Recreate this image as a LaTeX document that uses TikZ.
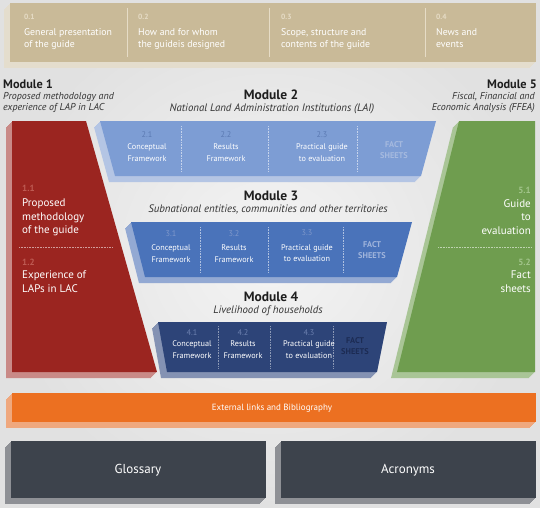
\documentclass[tikz,border=0pt]{standalone}
\usepackage{fontspec}
\setmainfont{PT Sans}
\usepackage{tikz}
\usetikzlibrary{positioning}

\definecolor{bgout}{HTML}{E1E1E1}
\definecolor{bgin}{HTML}{F4F4F4}
\definecolor{beige}{HTML}{C9BA98}
\definecolor{beigeside}{HTML}{E4DDCD}
\definecolor{beigenum}{HTML}{E6DCC6}
\definecolor{modred}{HTML}{9B2520}
\definecolor{modredside}{HTML}{C98A87}
\definecolor{modrednum}{HTML}{BE5B53}
\definecolor{modgreen}{HTML}{6F9D4F}
\definecolor{modgreenside}{HTML}{A9C596}
\definecolor{modgreennum}{HTML}{A2C58B}
\definecolor{bluea}{HTML}{7D9DD4}
\definecolor{blueaside}{HTML}{B4C5E4}
\definecolor{blueanum}{HTML}{5B7AB3}
\definecolor{blueafact}{HTML}{A6BADF}
\definecolor{blueb}{HTML}{4A73BA}
\definecolor{bluebside}{HTML}{93A9D3}
\definecolor{bluebnum}{HTML}{7F98CB}
\definecolor{bluebfact}{HTML}{A1B5DC}
\definecolor{bluec}{HTML}{2D4478}
\definecolor{bluecside}{HTML}{8492B3}
\definecolor{bluecnum}{HTML}{6C80AF}
\definecolor{bluecfact}{HTML}{1C2B53}
\definecolor{orangebar}{HTML}{EC7021}
\definecolor{orangeside}{HTML}{EFA87E}
\definecolor{slate}{HTML}{3D434C}
\definecolor{slateside}{HTML}{8E9095}
\definecolor{headgrey}{HTML}{1E1E1E}
\definecolor{subgrey}{HTML}{333333}

% front face and its extruded side
\newcommand{\slab}[3]{%
  \foreach \s in {1,...,6} \fill[#2,shift={(-\s,\s)}] #3;
  \fill[#1] #3;}

\begin{document}
\begin{tikzpicture}[x=1pt,y=-1pt,
  modhead/.style={font=\bfseries\fontsize{12.3}{14}\selectfont,text=headgrey,inner sep=0},
  midhead/.style={modhead,font=\bfseries\fontsize{13.5}{16}\selectfont},
  modsub/.style={font=\itshape\fontsize{10}{11}\selectfont,text=subgrey,inner sep=0},
  midsub/.style={modsub,font=\itshape\fontsize{10.8}{12}\selectfont},
  topnum/.style={font=\bfseries\fontsize{7.5}{9}\selectfont,text=beigenum,inner sep=0},
  toptxt/.style={font=\fontsize{9.8}{12}\selectfont,text=white,align=left,inner sep=0},
  sidenum/.style={font=\bfseries\fontsize{9}{10}\selectfont,inner sep=0},
  sidetxt/.style={font=\fontsize{11}{13.5}\selectfont,text=white,inner sep=0},
  cell/.style={font=\fontsize{8.2}{11.5}\selectfont,text=white,align=center,inner sep=0,anchor=north},
  fact/.style={font=\bfseries\fontsize{8.3}{11}\selectfont,align=center,inner sep=0},
  divider/.style={densely dotted,line width=.6pt}]
\useasboundingbox (0,0) rectangle (540,507);
\shade[inner color=bgin,outer color=bgout] (0,0) rectangle (540,507);

% general part
\slab{beige}{beigeside}{(10,3)--(536,3)--(536,62)--(10,62)--cycle}
\draw[beigenum,line width=.5pt] (127,8)--(127,57) (269,8)--(269,57) (425,8)--(425,57);
\node[topnum,anchor=west] (n01) at (24,17) {0.1};
\node[toptxt,anchor=north west] (t01) at (24,28.5) {General presentation\\of the guide};
\node[topnum,anchor=west] (n02) at (138,17) {0.2};
\node[toptxt,anchor=north west] (t02) at (138,28.5) {How and for whom\\the guideis designed};
\node[topnum,anchor=west] (n03) at (281,17) {0.3};
\node[toptxt,anchor=north west] (t03) at (281,28.5) {Scope, structure and\\contents of the guide};
\node[topnum,anchor=west] (n04) at (436,17) {0.4};
\node[toptxt,anchor=north west] (t04) at (436,28.5) {News and\\events};

% module titles
\node[modhead,anchor=base west] (m1) at (3,88) {Module 1};
\node[modsub,anchor=north west,align=left] (m1s) at (3,92) {Proposed methodology and\\experience of LAP in LAC};
\node[midhead,anchor=base] (m2) at (271,99) {Module 2};
\node[midsub,anchor=base] (m2s) at (272,111) {National Land Administration Institutions (LAI)};
\node[modhead,anchor=base east] (m5) at (537,88) {Module 5};
\node[modsub,anchor=north east,align=right] (m5s) at (535,92) {Fiscal, Financial and\\Economic Analysis (FFEA)};
\node[midhead,anchor=base] (m3) at (271,200) {Module 3};
\node[midsub,anchor=base] (m3s) at (268,212) {Subnational entities, communities and other territories};
\node[midhead,anchor=base] (m4) at (271,301) {Module 4};
\node[midsub,anchor=base] (m4s) at (268,313) {Livelihood of households};

% module 1
\slab{modred}{modredside}{(12,121)--(86,121)--(157,372)--(12,372)--cycle}
\node[sidenum,text=modrednum,anchor=west] (n11) at (22,188) {1.1};
\node[sidetxt,anchor=north west,align=left] (t11) at (22,199) {Proposed\\methodology\\of the guide};
\draw[divider,white!55!modred] (19,247)--(113,247);
\node[sidenum,text=modrednum,anchor=west] (n12) at (22,262) {1.2};
\node[sidetxt,anchor=north west,align=left] (t12) at (22,271) {Experience of\\LAPs in LAC};

% module 5
\slab{modgreen}{modgreenside}{(459,121)--(535,121)--(535,372)--(397,372)--cycle}
\node[sidenum,text=modgreennum,anchor=east] (n51) at (531,190) {5.1};
\node[sidetxt,anchor=north east,align=right] (t51) at (531,199) {Guide\\to\\evaluation};
\draw[divider,white!55!modgreen] (438,247)--(532,247);
\node[sidenum,text=modgreennum,anchor=east] (n52) at (531,262) {5.2};
\node[sidetxt,anchor=north east,align=right] (t52) at (531,271) {Fact\\sheets};

% module 2
\slab{bluea}{blueaside}{(100,121)--(436,121)--(421,176)--(115,176)--cycle}
\draw[divider,white!55!bluea] (181,126)--(181,171) (268,126)--(268,171) (357,126)--(357,171);
\node[cell] (c21) at (147,131) {\textcolor{blueanum}{2.1}\\[1pt]Conceptual\\Framework};
\node[cell] (c22) at (226,131) {\textcolor{blueanum}{2.2}\\[1pt]Results\\Framework};
\node[cell] (c23) at (322,131) {\textcolor{blueanum}{2.3}\\[1pt]Practical guide\\to evaluation};
\node[fact,text=blueafact] (f2) at (394,150.5) {FACT\\SHEETS};

% module 3
\slab{blueb}{bluebside}{(131,222)--(412,222)--(397,277)--(145,277)--cycle}
\draw[divider,white!55!blueb] (200,227)--(200,272) (268,227)--(268,272) (343,227)--(343,272);
\node[cell] (c31) at (171,230) {\textcolor{bluebnum}{3.1}\\[3pt]Conceptual\\Framework};
\node[cell] (c32) at (234,230) {\textcolor{bluebnum}{3.2}\\[3pt]Results\\Framework};
\node[cell] (c33) at (307,230) {\textcolor{bluebnum}{3.3}\\[3pt]Practical guide\\to evaluation};
\node[fact,text=bluebfact] (f3) at (372,250.5) {FACT\\SHEETS};

% module 4
\slab{bluec}{bluecside}{(158,322)--(387,322)--(377,372)--(167,372)--cycle}
\draw[divider,white!45!bluec] (218,326)--(218,368) (270,326)--(270,368) (333,326)--(333,368);
\node[cell] (c41) at (192,329) {\textcolor{bluecnum}{4.1}\\Conceptual\\Framework};
\node[cell] (c42) at (243,329) {\textcolor{bluecnum}{4.2}\\Results\\Framework};
\node[cell] (c43) at (309,329) {\textcolor{bluecnum}{4.3}\\Practical guide\\to evaluation};
\node[fact,text=bluecfact] (f4) at (355,346.5) {FACT\\SHEETS};

% links and reference boxes
\slab{orangebar}{orangeside}{(12,393)--(536,393)--(536,422)--(12,422)--cycle}
\node[font=\fontsize{9}{11}\selectfont,text=white] (links) at (272,408) {External links and Bibliography};
\slab{slate}{slateside}{(11,441)--(266,441)--(266,498)--(11,498)--cycle}
\node[font=\fontsize{13}{15}\selectfont,text=white] (gloss) at (138,470) {Glossary};
\slab{slate}{slateside}{(281,441)--(536,441)--(536,498)--(281,498)--cycle}
\node[font=\fontsize{13}{15}\selectfont,text=white] (acro) at (408,470) {Acronyms};
\end{tikzpicture}
\end{document}
